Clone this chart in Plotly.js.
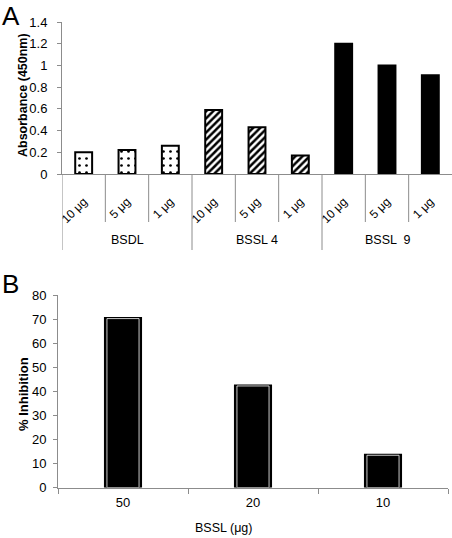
<!DOCTYPE html>
<html>
<head>
<meta charset="utf-8">
<script src="https://cdn.plot.ly/plotly-3.0.1.min.js"></script>
<style>html,body{margin:0;padding:0;background:#fff;}#chart{width:452px;height:538px;}</style>
</head>
<body>
<div id="chart"></div>
<script>
// ---- Data (panel A) ----
const doseLabels = ['10 μg', '5 μg', '1 μg', '10 μg', '5 μg', '1 μg', '10 μg', '5 μg', '1 μg'];
const groupNames = ['BSDL', 'BSSL 4', 'BSSL \u00a09'];
const absorbance = [0.20, 0.22, 0.26, 0.59, 0.43, 0.17, 1.20, 1.00, 0.91];
const groupPatterns = ['.', '/', ''];
const groupFills = ['white', 'white', 'black'];
const absTicks = [0, 0.2, 0.4, 0.6, 0.8, 1, 1.2, 1.4];

// ---- Data (panel B) ----
const bsslDoses = ['50', '20', '10'];
const inhibition = [70.2, 42.2, 13.4];
const inhTicks = [0, 10, 20, 30, 40, 50, 60, 70, 80];

const W = 452, H = 538;
const px = v => v / W;
const py = v => 1 - v / H;
const FONT = 'Liberation Sans, Arial, sans-serif';
const AXC = '#8c8c8c';

const xIdx = doseLabels.map((_, i) => i);
const perGroup = doseLabels.length / groupNames.length;

const tracesA = groupNames.map((g, k) => {
  const idx = xIdx.slice(k * perGroup, (k + 1) * perGroup);
  const marker = {color: groupFills[k], line: {color: 'black', width: 2}};
  if (groupPatterns[k]) {
    marker.pattern = {
      shape: groupPatterns[k], fgcolor: 'black', bgcolor: 'white',
      size: groupPatterns[k] === '.' ? 7 : 5,
      solidity: groupPatterns[k] === '.' ? 0.12 : 0.5
    };
  }
  return {
    type: 'bar', x: idx, y: idx.map(i => absorbance[i]), xaxis: 'x', yaxis: 'y',
    width: 0.39, marker: marker, name: g, hoverinfo: 'skip', showlegend: false
  };
});

const traceBOuter = {
  type: 'bar', x: bsslDoses, y: inhibition, xaxis: 'x2', yaxis: 'y2',
  width: 0.27,
  marker: {color: 'black', line: {color: 'black', width: 3}},
  hoverinfo: 'skip', showlegend: false
};
const traceBInner = {
  type: 'bar', x: bsslDoses, y: inhibition, xaxis: 'x2', yaxis: 'y2',
  width: 0.247,
  marker: {color: 'black', line: {color: 'white', width: 0.8}},
  hoverinfo: 'skip', showlegend: false
};

// Separators below panel A axis (category and group boundaries)
const axisBottomA = 174;
const shapes = [];
for (let i = 0; i < doseLabels.length; i++) {
  const isGroup = i % perGroup === 0;
  shapes.push({
    type: 'line', xref: 'x', yref: 'paper',
    x0: i - 0.5, x1: i - 0.5,
    y0: py(axisBottomA), y1: py(isGroup ? 250 : 222),
    line: {color: AXC, width: 1}
  });
}

const ann = (text, x, y, size, extra) => Object.assign({
  text: text, xref: 'paper', yref: 'paper', x: x, y: y, xanchor: 'center', yanchor: 'middle',
  showarrow: false, borderpad: 0, font: {family: FONT, size: size, color: 'black'}
}, extra || {});

const annotations = [
  ann('A', px(11), 1, 26, {yanchor: 'top'}),
  ann('B', px(10), py(284), 26),
  ann('<b>Absorbance (450nm)</b>', px(23), py(95), 12.5, {textangle: -90}),
  ann('<b>% Inhibition</b>', px(23), py(394), 13, {textangle: -90}),
  ann('BSSL (μg)', px(223), py(528), 12.5)
];
groupNames.forEach((g, k) => {
  annotations.push(ann(g, k * perGroup + (perGroup - 1) / 2, py(240), 12.5, {xref: 'x'}));
});

const layout = {
  width: W, height: H,
  margin: {l: 0, r: 0, t: 0, b: 0},
  paper_bgcolor: 'white', plot_bgcolor: 'white',
  barmode: 'overlay',
  font: {family: FONT, size: 12.5, color: 'black'},
  showlegend: false,
  xaxis: {
    domain: [px(62), 1], range: [-0.5, 8.5], anchor: 'y',
    tickvals: xIdx, ticktext: doseLabels, tickangle: -45,
    ticks: '', ticklabelstandoff: 15,
    showline: true, linecolor: AXC, linewidth: 1, showgrid: false, zeroline: false,
    tickfont: {family: FONT, size: 12, color: 'black'}, fixedrange: true
  },
  yaxis: {
    domain: [py(174), py(22)], range: [0, 1.4], anchor: 'x',
    tickvals: absTicks, ticktext: absTicks.map(String),
    ticks: 'outside', ticklen: 4, tickcolor: AXC, ticklabelstandoff: 7,
    showline: true, linecolor: AXC, linewidth: 1, showgrid: false, zeroline: false,
    tickfont: {family: FONT, size: 13, color: 'black'}, fixedrange: true
  },
  xaxis2: {
    domain: [px(58), px(448)], anchor: 'y2', type: 'category',
    categoryorder: 'array', categoryarray: bsslDoses,
    tickson: 'boundaries', ticks: 'outside', ticklen: 5, tickcolor: AXC, ticklabelstandoff: 3,
    showline: true, linecolor: AXC, linewidth: 1, showgrid: false, zeroline: false,
    tickfont: {family: FONT, size: 13, color: 'black'}, fixedrange: true
  },
  yaxis2: {
    domain: [py(487.5), py(295)], range: [0, 80], anchor: 'x2',
    tickvals: inhTicks,
    ticks: 'outside', ticklen: 4, tickcolor: AXC, ticklabelstandoff: 4,
    showline: true, linecolor: AXC, linewidth: 1, showgrid: false, zeroline: false,
    tickfont: {family: FONT, size: 13, color: 'black'}, fixedrange: true
  },
  shapes: shapes,
  annotations: annotations
};

Plotly.newPlot('chart', tracesA.concat([traceBOuter, traceBInner]), layout, {displayModeBar: false, staticPlot: true});
</script>
</body>
</html>
